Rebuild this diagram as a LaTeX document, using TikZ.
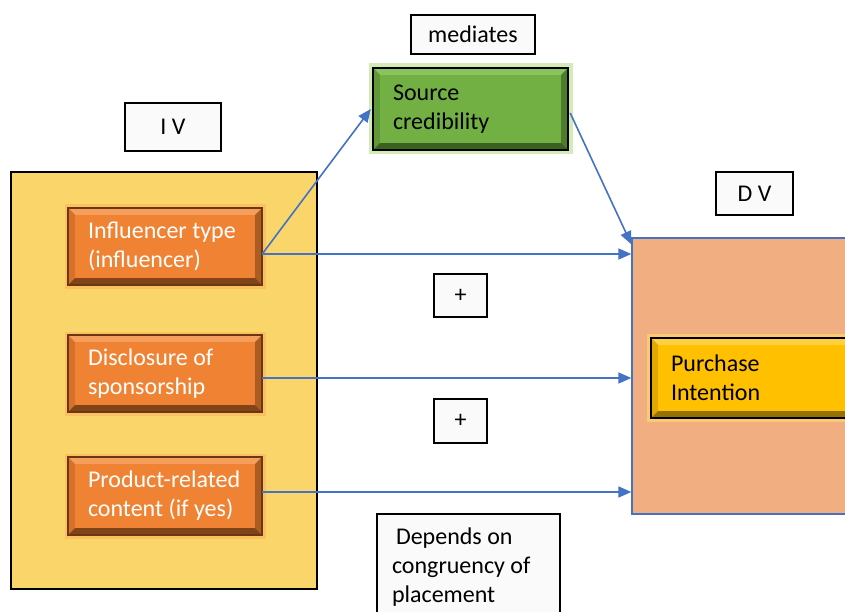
\documentclass[tikz,border=0pt]{standalone}
\usepackage{fontspec}
\setmainfont{Carlito}
\usetikzlibrary{arrows.meta,calc}
\definecolor{ivyellow}{RGB}{250,214,106}
\definecolor{orbase}{RGB}{240,131,51}
\definecolor{ortop}{RGB}{246,158,92}
\definecolor{orleft}{RGB}{214,112,42}
\definecolor{orright}{RGB}{170,92,34}
\definecolor{orbot}{RGB}{128,68,24}
\definecolor{orline}{RGB}{105,55,18}
\definecolor{orglow}{RGB}{253,180,90}
\definecolor{grbase}{RGB}{114,176,67}
\definecolor{grtop}{RGB}{138,196,94}
\definecolor{grleft}{RGB}{96,154,56}
\definecolor{grright}{RGB}{76,124,44}
\definecolor{grbot}{RGB}{58,96,34}
\definecolor{grglow}{RGB}{200,232,166}
\definecolor{gdbase}{RGB}{255,192,0}
\definecolor{gdtop}{RGB}{255,208,64}
\definecolor{gdleft}{RGB}{224,168,0}
\definecolor{gdright}{RGB}{192,144,0}
\definecolor{gdbot}{RGB}{150,112,0}
\definecolor{gdglow}{RGB}{255,214,110}
\definecolor{dvfill}{RGB}{241,175,129}
\definecolor{linkblue}{RGB}{68,114,196}
\definecolor{labfill}{RGB}{250,250,250}
\newcommand\bevelbox[6]{%
  \fill[#2] (#1.north west) -- (#1.north east) -- ([shift={(-7pt,-7pt)}]#1.north east) -- ([shift={(7pt,-7pt)}]#1.north west) -- cycle;
  \fill[#3] (#1.north west) -- ([shift={(7pt,-7pt)}]#1.north west) -- ([shift={(7pt,7pt)}]#1.south west) -- (#1.south west) -- cycle;
  \fill[#4] (#1.north east) -- ([shift={(-7pt,-7pt)}]#1.north east) -- ([shift={(-7pt,7pt)}]#1.south east) -- (#1.south east) -- cycle;
  \fill[#5] (#1.south west) -- ([shift={(7pt,7pt)}]#1.south west) -- ([shift={(-7pt,7pt)}]#1.south east) -- (#1.south east) -- cycle;
  \draw[#6, line width=1.6pt] (#1.north west) rectangle (#1.south east);
}
\begin{document}
\begin{tikzpicture}[x=1pt,y=-1pt,
  labelbox/.style={draw=black, line width=1.1pt, fill=labfill, font=\fontsize{24}{29}\selectfont, inner sep=0pt, align=center},
  bigbox/.style={rectangle, inner sep=0pt},
  ibox/.style={rectangle, inner xsep=20pt, inner ysep=0pt, align=left, font=\fontsize{24}{29}\selectfont, execute at begin node={\spaceskip=0pt\xspaceskip=0pt\relax}},
  orbox/.style={ibox, fill=orbase, text=white, preaction={draw=orglow, line width=7pt, opacity=0.6, rounded corners=4pt}},
  grbox/.style={ibox, fill=grbase, text=black, preaction={draw=grglow, line width=9pt, opacity=0.8, rounded corners=4pt}},
  gdbox/.style={ibox, fill=gdbase, text=black, preaction={draw=gdglow, line width=8pt, opacity=0.7, rounded corners=4pt}},
  link/.style={draw=linkblue, line width=1.6pt, -{Triangle[length=13pt,width=11pt]}}
]
\clip (0,0) rectangle (845,612);
\fill[white] (0,0) rectangle (845,612);

% big containers
\node[bigbox, draw=black, line width=1.3pt, fill=ivyellow, minimum width=306pt, minimum height=417pt] (iv) at (164,380.5) {};
\node[bigbox, draw=linkblue, line width=1.3pt, fill=dvfill, minimum width=238pt, minimum height=276pt] (dv) at (751,376) {};

% labels
\node[labelbox, minimum width=96pt, minimum height=48pt] (ivlab) at (173,127) {I V};
\node[labelbox, minimum width=124pt, minimum height=39pt] (med) at (473,34.5) {mediates};
\node[labelbox, minimum width=77pt, minimum height=43pt] (dvlab) at (754.5,193.5) {D V};
\node[labelbox, minimum width=53pt, minimum height=43pt] (plus1) at (460.5,295.5) {+};
\node[labelbox, minimum width=53pt, minimum height=44pt] (plus2) at (460.5,421) {+};
\node[labelbox, minimum width=183pt, minimum height=106pt, inner xsep=15pt, text width=153pt, align=left, execute at begin node={\spaceskip=0pt\xspaceskip=0pt\relax}] (dep) at (468.5,567) {\hspace{4pt}Depends on\\congruency of\\placement};

% inner boxes
\node[orbox, minimum width=194pt, minimum height=77pt, text width=154pt] (infl) at (165,246.5) {Influencer type\\(influencer)};
\bevelbox{infl}{ortop}{orleft}{orright}{orbot}{orline}
\node[orbox, minimum width=194pt, minimum height=77pt, text width=154pt] (disc) at (165,373.5) {Disclosure of\\sponsorship};
\bevelbox{disc}{ortop}{orleft}{orright}{orbot}{orline}
\node[orbox, minimum width=194pt, minimum height=78pt, text width=154pt] (prod) at (165,496) {Product-related\\content (if yes)};
\bevelbox{prod}{ortop}{orleft}{orright}{orbot}{orline}
\node[grbox, minimum width=195pt, minimum height=82pt, text width=155pt] (src) at (470.5,109) {Source\\credibility};
\bevelbox{src}{grtop}{grleft}{grright}{grbot}{black}
\node[gdbox, minimum width=208pt, minimum height=80pt, text width=168pt] (pi) at (755,378) {Purchase\\Intention};
\bevelbox{pi}{gdtop}{gdleft}{gdright}{gdbot}{black}

% connectors
\coordinate (a1) at ([yshift=-7.5pt]infl.east);
\coordinate (a2) at ([yshift=-4.5pt]disc.east);
\coordinate (a3) at ([yshift=4pt]prod.east);
\coordinate (srcout) at ([xshift=2pt,yshift=-4pt]src.east);
\coordinate (dvtop) at ([yshift=-7pt]dv.north west);
\draw[link] (a1) -- ([xshift=-2pt]src.west);
\draw[link] (a1) -- (a1 -| dv.west);
\draw[link] (srcout) -- (dvtop);
\draw[link] (a2) -- (a2 -| dv.west);
\draw[link] (a3) -- (a3 -| dv.west);
\end{tikzpicture}
\end{document}
